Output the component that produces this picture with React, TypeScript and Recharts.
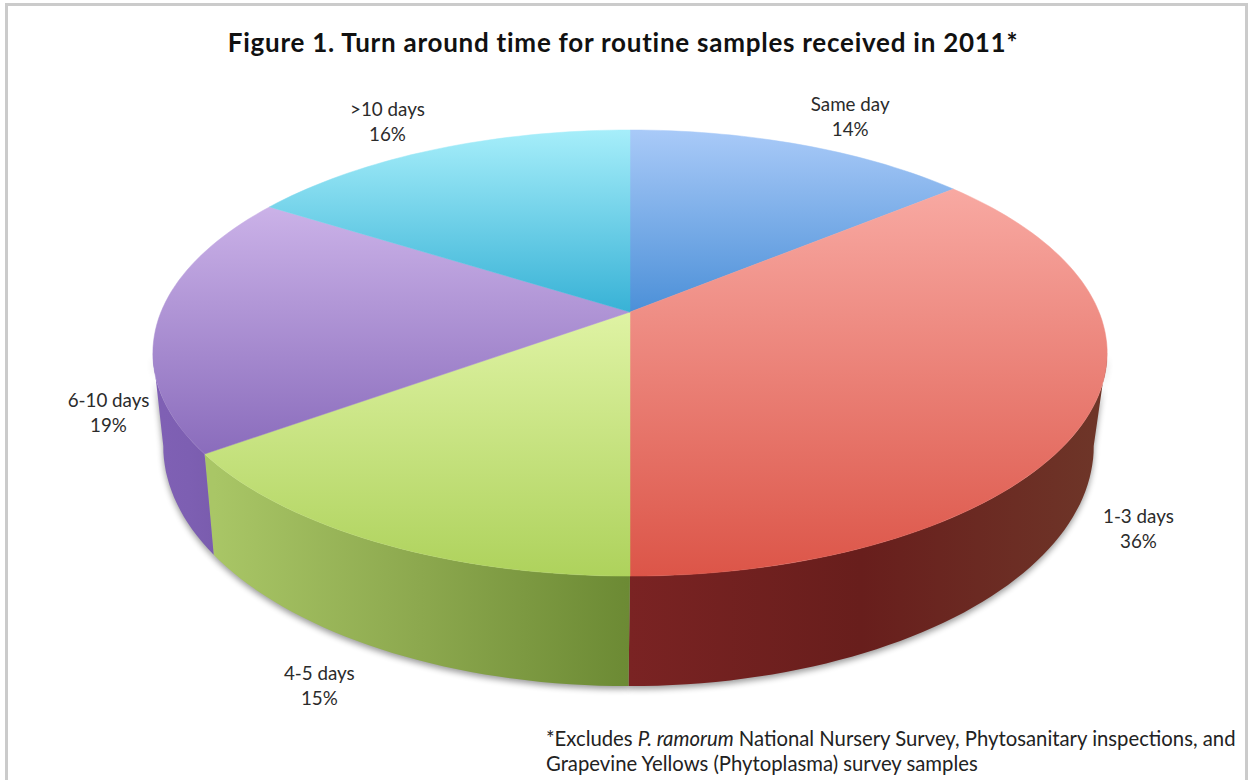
import { Pie, PieChart } from "recharts";

// Turn around time for routine samples, drawn as a tilted 3D pie. Recharts
// works out the slice angles; the shapes below project them onto the tilted disc.
const categories = ["Same day", "1-3 days", "4-5 days", "6-10 days", ">10 days"];
const shares = [14, 36, 15, 19, 16];

const topColors = [
  ["#a9caf8", "#4c90d8"],
  ["#f8a9a2", "#dc5548"],
  ["#dff3a4", "#aed25c"],
  ["#cbb2e8", "#8a6cbc"],
  ["#a6eefa", "#38b2d6"],
];
const wallColors = [
  ["#4c90d8", "#4c90d8", "#4c90d8"],
  ["#7a2323", "#681e1c", "#6e3528"],
  ["#a9c666", "#8ca84e", "#6c8a34"],
  ["#7f60b4", "#7d5fb2", "#7a5cae"],
  ["#38b2d6", "#38b2d6", "#38b2d6"],
];
// label centre relative to the rim point at the middle of each slice
const labelOffsets = [
  [49, -27],
  [48, 118],
  [-56, 145],
  [-50, 95],
  [-48, -26],
];

const data = categories.map((name, i) => ({ name, value: shares[i] }));

const WIDTH = 1249;
const HEIGHT = 780;
const RAD = Math.PI / 180;

// tilt of the disc: k is the perspective foreshortening, squash the vertical scale
const K = 0.184;
const SQUASH = 0.4595;
const DEPTH = 89.8;
const WALL_SHRINK = 0.975;
const WALL_SHIFT = -1.5;
const RIGHT_EDGE = -10.6;
const LEFT_EDGE = -169.4;

type Pt = [number, number];

function rim(cx: number, cy: number, r: number, deg: number): Pt {
  const X = Math.cos(deg * RAD);
  const Y = Math.sin(deg * RAD);
  const w = 1 + K * Y;
  return [cx + (r * X) / w, cy - (r * SQUASH * Y) / w];
}

function floor(cx: number, cy: number, r: number, deg: number): Pt {
  const X = Math.cos(deg * RAD);
  const Y = Math.sin(deg * RAD);
  const w = 1 + K * Y;
  return [
    cx + WALL_SHIFT + (r * X * WALL_SHRINK) / w,
    cy - (r * SQUASH * Y) / w + DEPTH / w,
  ];
}

function sweep(from: number, to: number, fn: (deg: number) => Pt): Pt[] {
  const steps = Math.max(2, Math.ceil(Math.abs(from - to) / 1.5));
  const pts: Pt[] = [];
  for (let i = 0; i <= steps; i++) pts.push(fn(from + ((to - from) * i) / steps));
  return pts;
}

const toPath = (pts: Pt[]) =>
  "M" + pts.map((p) => `${p[0].toFixed(1)} ${p[1].toFixed(1)}`).join("L") + "Z";

function wallPath(p: any) {
  const start = Math.min(p.startAngle, RIGHT_EDGE);
  const end = Math.max(p.endAngle, LEFT_EDGE);
  if (start <= end) return null;
  const top = sweep(start, end, (d) => rim(p.cx, p.cy, p.outerRadius, d));
  const bottom = sweep(end, start, (d) => floor(p.cx, p.cy, p.outerRadius, d));
  return toPath([...top, ...bottom]);
}

// soft shadow under the side of the disc
function ShadowSlice(p: any) {
  const d = wallPath(p);
  if (!d) return <g />;
  return <path d={d} fill="#000" opacity={0.4} transform="translate(0 3)" style={{ filter: "blur(3px)" }} />;
}

function Slice(p: any) {
  const i = p.index as number;
  const d = wallPath(p);
  const top = [
    [p.cx, p.cy] as Pt,
    ...sweep(p.startAngle, p.endAngle, (a) => rim(p.cx, p.cy, p.outerRadius, a)),
  ];
  const ys = top.map((t) => t[1]);
  const xs = d ? sweep(Math.min(p.startAngle, RIGHT_EDGE), Math.max(p.endAngle, LEFT_EDGE), (a) => floor(p.cx, p.cy, p.outerRadius, a)).map((t) => t[0]) : [0, 1];
  return (
    <g>
      <defs>
        <linearGradient id={`top-${i}`} gradientUnits="userSpaceOnUse" x1={0} x2={0} y1={Math.min(...ys)} y2={Math.max(...ys)}>
          <stop offset="0" stopColor={topColors[i][0]} />
          <stop offset="1" stopColor={topColors[i][1]} />
        </linearGradient>
        <linearGradient id={`wall-${i}`} gradientUnits="userSpaceOnUse" y1={0} y2={0} x1={Math.min(...xs)} x2={Math.max(...xs)}>
          <stop offset="0" stopColor={wallColors[i][0]} />
          <stop offset="0.5" stopColor={wallColors[i][1]} />
          <stop offset="1" stopColor={wallColors[i][2]} />
        </linearGradient>
      </defs>
      {d && <path d={d} fill={`url(#wall-${i})`} />}
      <path d={toPath(top)} fill={`url(#top-${i})`} stroke={`url(#top-${i})`} strokeWidth={0.5} />
    </g>
  );
}

function SliceLabel(p: any) {
  const [ax, ay] = rim(p.cx, p.cy, p.outerRadius, p.midAngle);
  const [dx, dy] = labelOffsets[p.index];
  const x = ax + dx;
  const y = ay + dy;
  return (
    <text x={x} y={y} textAnchor="middle" fontFamily="Lato" fontSize={18.8} fill="#2b2b2b">
      <tspan x={x} dy={-7}>{p.name}</tspan>
      <tspan x={x} dy={25}>{`${p.value}%`}</tspan>
    </text>
  );
}

export default function App() {
  return (
    <div style={{ position: "absolute", left: 0, top: 0, width: WIDTH, height: HEIGHT, background: "#fff", overflow: "hidden" }}>
      <div
        style={{
          position: "absolute",
          left: 5,
          top: 3,
          width: 1237,
          height: 790,
          border: "3px solid #cbcbcb",
        }}
      />
      <div
        style={{
          position: "absolute",
          left: 0,
          width: 1246,
          top: 27,
          textAlign: "center",
          fontFamily: "Lato",
          fontWeight: 700,
          fontSize: 26,
          letterSpacing: 0.75,
          lineHeight: "30px",
          color: "#111",
        }}
      >
        Figure 1. Turn around time for routine samples received in 2011*
      </div>
      <PieChart width={WIDTH} height={HEIGHT} style={{ position: "absolute", left: 0, top: 0 }} margin={{ top: 0, right: 0, bottom: 0, left: 0 }}>
        <Pie
          data={data}
          dataKey="value"
          nameKey="name"
          cx={630}
          cy={312}
          outerRadius={469}
          startAngle={90}
          endAngle={-270}
          shape={ShadowSlice}
          label={false}
          labelLine={false}
          isAnimationActive={false}
        />
        <Pie
          data={data}
          dataKey="value"
          nameKey="name"
          cx={630}
          cy={312}
          outerRadius={469}
          startAngle={90}
          endAngle={-270}
          shape={Slice}
          label={SliceLabel}
          labelLine={false}
          isAnimationActive={false}
        />
      </PieChart>
      <div
        style={{
          position: "absolute",
          left: 546,
          top: 726,
          fontFamily: "Lato",
          fontSize: 20.3,
          lineHeight: "25px",
          color: "#222",
          whiteSpace: "nowrap",
        }}
      >
        *Excludes <i>P. ramorum</i> National Nursery Survey, Phytosanitary inspections, and
        <br />
        Grapevine Yellows (Phytoplasma) survey samples
      </div>
    </div>
  );
}
